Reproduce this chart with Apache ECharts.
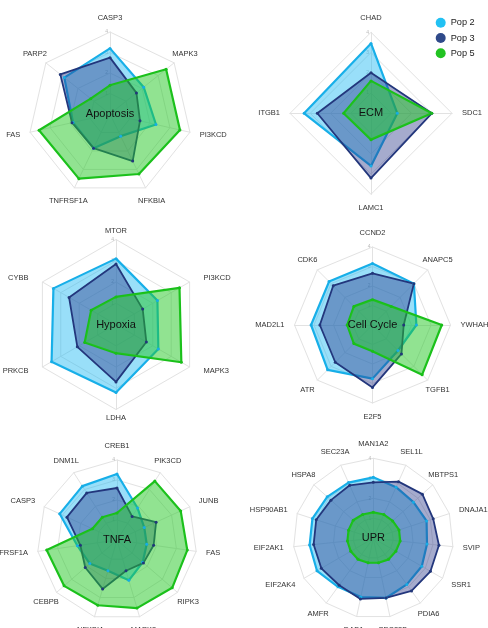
<!DOCTYPE html>
<html><head><meta charset="utf-8">
<script src="https://cdn.jsdelivr.net/npm/echarts@6/dist/echarts.min.js"></script>
<style>html,body{margin:0;padding:0;background:#fff}#c{width:488px;height:628px}</style>
</head><body><div id="c"></div>
<script>
// ---- data (axes listed clockwise starting at the top) ----
const seriesNames = ['Pop 2', 'Pop 3', 'Pop 5'];
const axisMax = 4;

const apoptosisAxes = ['CASP3','MAPK3','PI3KCD','NFKBIA','TNFRSF1A','FAS','PARP2'];
const apoptosisPop2 = [3.2, 2.1, 2.3, 1.2, 1.85, 1.85, 2.85];
const apoptosisPop3 = [2.75, 1.65, 1.5, 2.55, 1.85, 1.9, 3.1];
const apoptosisPop5 = [1.4, 3.5, 3.5, 3.25, 3.5, 3.55, 1.2];

const ecmAxes = ['CHAD','SDC1','LAMC1','ITGB1'];
const ecmPop2 = [3.45, 1.3, 2.6, 3.3];
const ecmPop3 = [2.0, 3.0, 3.2, 2.65];
const ecmPop5 = [1.6, 3.0, 1.3, 1.35];

const hypoxiaAxes = ['MTOR','PI3KCD','MAPK3','LDHA','PRKCB','CYBB'];
const hypoxiaPop2 = [3.1, 2.25, 2.3, 3.2, 3.5, 3.4];
const hypoxiaPop3 = [2.85, 1.45, 1.65, 2.7, 2.1, 2.55];
const hypoxiaPop5 = [1.3, 3.45, 3.55, 1.35, 1.7, 1.35];

const cellCycleAxes = ['CCND2','ANAPC5','YWHAH','TGFB1','E2F5','ATR','MAD2L1','CDK6'];
const cellCyclePop2 = [3.15, 3.0, 2.25, 1.85, 2.75, 3.25, 3.15, 3.15];
const cellCyclePop3 = [2.65, 3.0, 1.6, 2.1, 3.2, 2.7, 2.7, 2.85];
const cellCyclePop5 = [1.3, 1.35, 3.55, 3.6, 1.35, 1.35, 1.3, 1.35];

const tnfaAxes = ['CREB1','PIK3CD','JUNB','FAS','RIPK3','MAPK3','NFKBIA','CEBPB','TNFRSF1A','CASP3','DNM1L'];
const tnfaPop2 = [3.3, 1.9, 1.5, 1.5, 1.7, 2.1, 1.6, 1.8, 2.0, 3.15, 3.2];
const tnfaPop3 = [2.6, 1.4, 2.15, 1.85, 1.75, 1.6, 2.55, 2.1, 1.85, 2.75, 2.8];
const tnfaPop5 = [1.35, 3.5, 3.5, 3.55, 3.65, 3.55, 3.4, 3.5, 3.55, 1.35, 1.35];

const uprAxes = ['MAN1A2','SEL1L','MBTPS1','DNAJA1','SVIP','SSR1','PDIA6','SEC23B','DAD1','AMFR','EIF2AK4','EIF2AK1','HSP90AB1','HSPA8','SEC23A'];
const uprPop2 = [3.05, 2.8, 2.7, 2.8, 2.7, 2.8, 2.85, 3.05, 3.0, 3.0, 3.25, 3.2, 3.2, 3.1, 3.05];
const uprPop3 = [2.8, 3.1, 3.3, 3.15, 3.3, 3.3, 3.25, 3.05, 3.1, 2.9, 3.0, 3.0, 3.0, 2.85, 2.9];
const uprPop5 = [1.3, 1.3, 1.3, 1.35, 1.35, 1.3, 1.3, 1.25, 1.25, 1.3, 1.3, 1.3, 1.3, 1.35, 1.3];

// ---- layout & style ----
const panels = [
  {title:'Apoptosis', axes:apoptosisAxes, values:[apoptosisPop2, apoptosisPop3, apoptosisPop5], center:[110,114], radius:82, labelR:[82,82]},
  {title:'ECM', axes:ecmAxes, values:[ecmPop2, ecmPop3, ecmPop5], center:[371,113.3], radius:81, labelR:[81,81]},
  {title:'Hypoxia', axes:hypoxiaAxes, values:[hypoxiaPop2, hypoxiaPop3, hypoxiaPop5], center:[116,324.5], radius:85, labelR:[91,79.5]},
  {title:'Cell Cycle', axes:cellCycleAxes, values:[cellCyclePop2, cellCyclePop3, cellCyclePop5], center:[372.5,325], radius:78, labelR:[78,78]},
  {title:'TNFA', axes:tnfaAxes, values:[tnfaPop2, tnfaPop3, tnfaPop5], center:[117,540], radius:80, labelR:[80,80]},
  {title:'UPR', axes:uprAxes, values:[uprPop2, uprPop3, uprPop5], center:[373.3,538.3], radius:80, labelR:[80,80]}
];
const styles = [
  {line:'#17ade6', width:2.2, dot:'#17ade6', fill:'rgba(28,185,242,0.45)', legend:'#22c1f3'},
  {line:'#22377a', width:1.8, dot:'#22377a', fill:'rgba(40,55,135,0.42)', legend:'#2f4a8a'},
  {line:'#19bf19', width:2.2, dot:'#19bf19', fill:'rgba(35,200,35,0.5)', legend:'#22c322'}
];
const FONT = 'Liberation Sans, Arial, sans-serif';

// ECharts lays radar indicators out counter-clockwise; reorder clockwise lists
const ccw = arr => [arr[0]].concat(arr.slice(1).reverse());

const radar = panels.map(p => ({
  center: p.center,
  radius: p.radius,
  startAngle: 90,
  splitNumber: 4,
  shape: 'polygon',
  indicator: ccw(p.axes).map((name, i) => {
    const ind = {name: name, min: 0, max: axisMax};
    if (i === 0) ind.axisLabel = {show: true, fontSize: 5, color: '#bbb', margin: 2, showMinLabel: false, fontFamily: FONT};
    return ind;
  }),
  axisName: {show: false},
  splitLine: {lineStyle: {color: '#e2e2e2', width: 1}},
  splitArea: {show: false},
  axisLine: {lineStyle: {color: '#e2e2e2', width: 1}},
  axisTick: {show: false},
  axisLabel: {show: false}
}));

const series = panels.map((p, ri) => ({
  type: 'radar',
  radarIndex: ri,
  symbol: 'circle',
  symbolSize: 3,
  silent: true,
  data: p.values.map((v, k) => ({
    name: seriesNames[k],
    value: ccw(v),
    lineStyle: {color: styles[k].line, width: styles[k].width},
    itemStyle: {color: styles[k].dot},
    areaStyle: {color: styles[k].fill, opacity: 1}
  }))
}));

const graphic = [];
panels.forEach(p => {
  graphic.push({
    type: 'text', x: p.center[0], y: p.center[1], z: 100,
    style: {text: p.title, fill: '#111', fontSize: 11, fontFamily: FONT, align: 'center', verticalAlign: 'middle'}
  });
  const n = p.axes.length;
  p.axes.forEach((name, i) => {
    const a = (90 - i * 360 / n) * Math.PI / 180;
    const c = Math.cos(a), s = Math.sin(a);
    let x, y, align;
    if (Math.abs(c) > 0.85) {
      align = c > 0 ? 'left' : 'right';
      x = p.center[0] + (p.labelR[0] + 10) * c;
      y = p.center[1] - (p.labelR[1] + 13) * s;
    } else {
      align = 'center';
      x = p.center[0] + (p.labelR[0] + 14) * c;
      y = p.center[1] - (p.labelR[1] + 14) * s;
    }
    graphic.push({
      type: 'text', x: x, y: y, z: 100, silent: true,
      style: {text: name, fill: '#333', fontSize: 7.5, fontFamily: FONT, align: align, verticalAlign: 'middle'}
    });
  });
});

const chart = echarts.init(document.getElementById('c'), null, {renderer: 'canvas'});
chart.setOption({
  animation: false,
  backgroundColor: '#fff',
  legend: {
    data: seriesNames.map((n, k) => ({name: n, itemStyle: {color: styles[k].legend}})),
    orient: 'vertical', left: 435.7, top: 17.7, padding: 0,
    icon: 'circle', itemWidth: 10, itemHeight: 10, itemGap: 5.3,
    textStyle: {fontSize: 9.2, color: '#222', fontFamily: FONT},
    selectedMode: false
  },
  radar: radar,
  series: series,
  graphic: graphic
});
</script></body></html>
